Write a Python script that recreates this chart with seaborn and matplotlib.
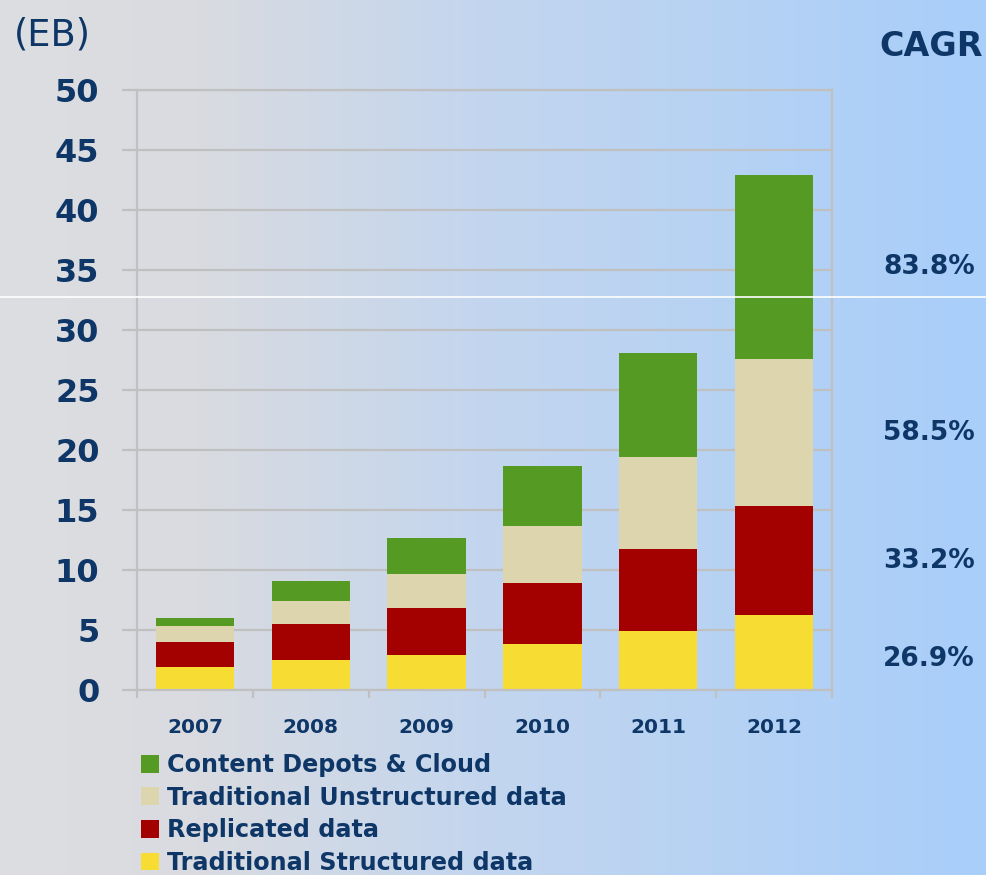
import matplotlib
matplotlib.use("Agg")
import matplotlib.pyplot as plt
import seaborn as sns
import numpy as np
from matplotlib.patches import Patch
from matplotlib.lines import Line2D

years = ["2007", "2008", "2009", "2010", "2011", "2012"]
structured = [1.92, 2.50, 2.92, 3.83, 4.92, 6.25]
replicated = [2.08, 3.00, 3.91, 5.09, 6.83, 9.08]
unstructured = [1.33, 1.92, 2.84, 4.75, 7.67, 12.25]
cloud = [0.67, 1.66, 3.00, 5.00, 8.66, 15.34]

series_names = ["Traditional Structured data", "Replicated data",
                "Traditional Unstructured data", "Content Depots & Cloud"]
series_colors = ["#f7dd33", "#a30000", "#dcd5ad", "#559b23"]
cagr_labels = ["26.9%", "33.2%", "58.5%", "83.8%"]
yticks = [0, 5, 10, 15, 20, 25, 30, 35, 40, 45, 50]

navy = "#0e3768"
grid_gray = "#c0c0c0"
plt.rcParams["font.family"] = ["DejaVu Sans"]

fig = plt.figure(figsize=(9.87, 8.75), dpi=100)

# background gradient, grey on the left to light blue on the right
bg = fig.add_axes([0, 0, 1, 1], zorder=-10)
xs = np.linspace(0, 1, 987)
stops = [0.0, 0.2, 0.48, 1.0]
stop_cols = np.array([[221, 222, 225], [217, 219, 224], [196, 214, 238], [168, 206, 250]]) / 255
grad = np.stack([np.interp(xs, stops, stop_cols[:, i]) for i in range(3)], axis=-1)
bg.imshow(grad[np.newaxis, :, :], aspect="auto", extent=[0, 1, 0, 1])
bg.axis("off")

ax = fig.add_axes([137 / 987, 1 - 690 / 875, (832 - 137) / 987, 600 / 875])
ax.set_facecolor("none")

layers = [structured, replicated, unstructured, cloud]
cums = np.cumsum(np.array(layers), axis=0)

# draw tallest cumulative first, smaller ones on top -> stacked look
for i in range(len(layers) - 1, -1, -1):
    sns.barplot(x=years, y=cums[i], color=series_colors[i], saturation=1,
                width=0.675, ax=ax, zorder=2)

ax.set_xlabel("")
ax.set_ylabel("")
ax.set_ylim(0, 50)
ax.set_xlim(-0.5, 5.5)
ax.set_yticks(yticks)
ax.set_axisbelow(True)
ax.yaxis.grid(True, color=grid_gray, lw=1.6)
ax.xaxis.grid(False)
for s in ax.spines.values():
    s.set_color(grid_gray)
    s.set_linewidth(1.6)

ax.tick_params(axis="y", length=11, width=1.6, color=grid_gray, pad=16,
               labelsize=23, labelcolor=navy)
for lab in ax.get_yticklabels():
    lab.set_fontweight("bold")

ax.tick_params(axis="x", which="major", length=0, pad=20,
               labelsize=14.5, labelcolor=navy)
for lab in ax.get_xticklabels():
    lab.set_fontweight("bold")
ax.set_xticks(np.arange(-0.5, 6, 1), minor=True)
ax.tick_params(axis="x", which="minor", length=5.5, width=1.6, color=grid_gray)

# legend
handles = [Patch(facecolor=series_colors[i], edgecolor="none", label=series_names[i])
           for i in range(len(series_names) - 1, -1, -1)]
fig.legend(handles=handles, loc="upper left",
           bbox_to_anchor=(141 / 987, 1 - 753 / 875), frameon=False,
           prop={"weight": "bold", "size": 17.2}, labelcolor=navy,
           handlelength=0.76, handleheight=0.76, handletextpad=0.34,
           labelspacing=0.36, borderpad=0, borderaxespad=0)

# CAGR annotations next to the 2012 segments
trans = matplotlib.transforms.blended_transform_factory(fig.transFigure, ax.transData)
bottoms = np.concatenate([[0], cums[:-1, -1]])
for i, lab in enumerate(cagr_labels):
    mid = bottoms[i] + layers[i][-1] / 2
    if i == 0:
        mid -= 0.5
    ax.text(975 / 987, mid, lab, transform=trans, ha="right", va="center",
            fontsize=19, fontweight="bold", color=navy)

fig.text(931 / 987, 1 - 47 / 875, "CAGR", ha="center", va="center",
         fontsize=24, fontweight="bold", color=navy)
fig.text(14 / 987, 1 - 35 / 875, "(EB)", ha="left", va="center",
         fontsize=26.5, color=navy)

# thin white line crossing the whole picture
fig.add_artist(Line2D([0, 1], [1 - 297 / 875] * 2, color="white", lw=1.2, zorder=20))

fig.savefig("out.png", dpi=100)
